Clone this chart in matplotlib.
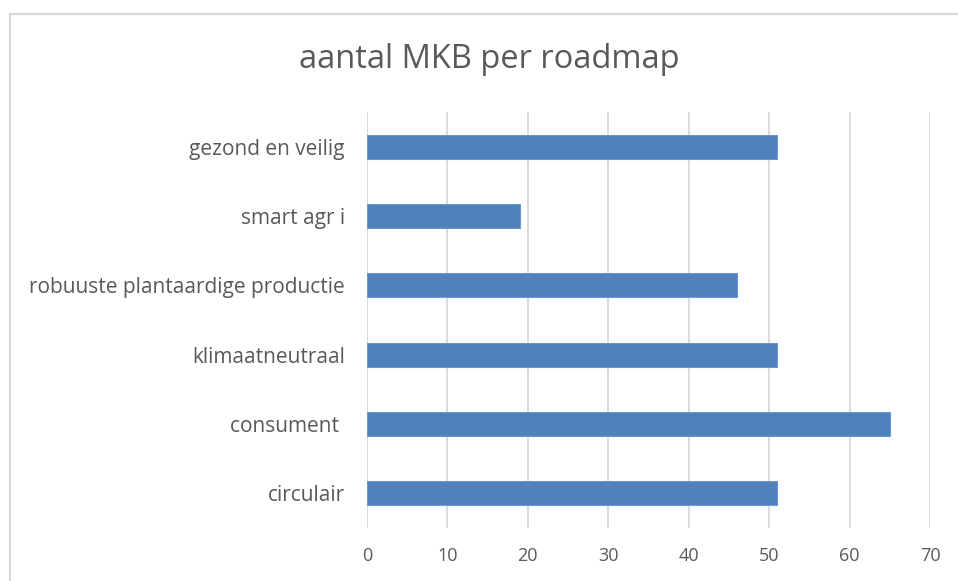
import matplotlib
matplotlib.use("Agg")
import matplotlib.pyplot as plt
from matplotlib.lines import Line2D

categories = ["circulair", "consument ", "klimaatneutraal", "robuuste plantaardige productie", "smart agr i", "gezond en veilig"]
values = [51, 65, 51, 46, 19, 51]
xticks = [0, 10, 20, 30, 40, 50, 60, 70]

plt.rcParams['font.family'] = ['Open Sans', 'DejaVu Sans']

fig = plt.figure(figsize=(9.58, 5.81), dpi=100)
ax = fig.add_axes([367/958, 1-528/581, (930-367)/958, (528-112)/581])

ypos = list(range(len(categories)))
ax.barh(ypos, values, height=0.35, color="#4F81BD", edgecolor="#6E97CC", linewidth=0.8, zorder=3)
ax.set_xlim(0, 70)
ax.set_ylim(-0.5, len(categories) - 0.5)
ax.set_xticks(xticks)
ax.set_xticklabels([str(t) for t in xticks])
ax.set_yticks(ypos)
ax.set_yticklabels(categories)
ax.grid(axis="x", color="#D9D9D9", linewidth=1.3, zorder=0)
for s in ax.spines.values():
    s.set_visible(False)
ax.tick_params(axis="both", length=0, colors="#595959")
ax.tick_params(axis="y", pad=16, labelsize=15)
ax.tick_params(axis="x", pad=14, labelsize=13)

fig.text(489/958, 1-60/581, "aantal MKB per roadmap", ha="center", va="center", fontsize=23.5, color="#595959")

# chart border
fig.add_artist(Line2D([10/958, 1.0], [1-14/581, 1-14/581], transform=fig.transFigure, color="#D9D9D9", linewidth=1.5))
fig.add_artist(Line2D([10/958, 10/958], [0.0, 1-14/581], transform=fig.transFigure, color="#D9D9D9", linewidth=1.5))

fig.savefig("out.png", dpi=100)
